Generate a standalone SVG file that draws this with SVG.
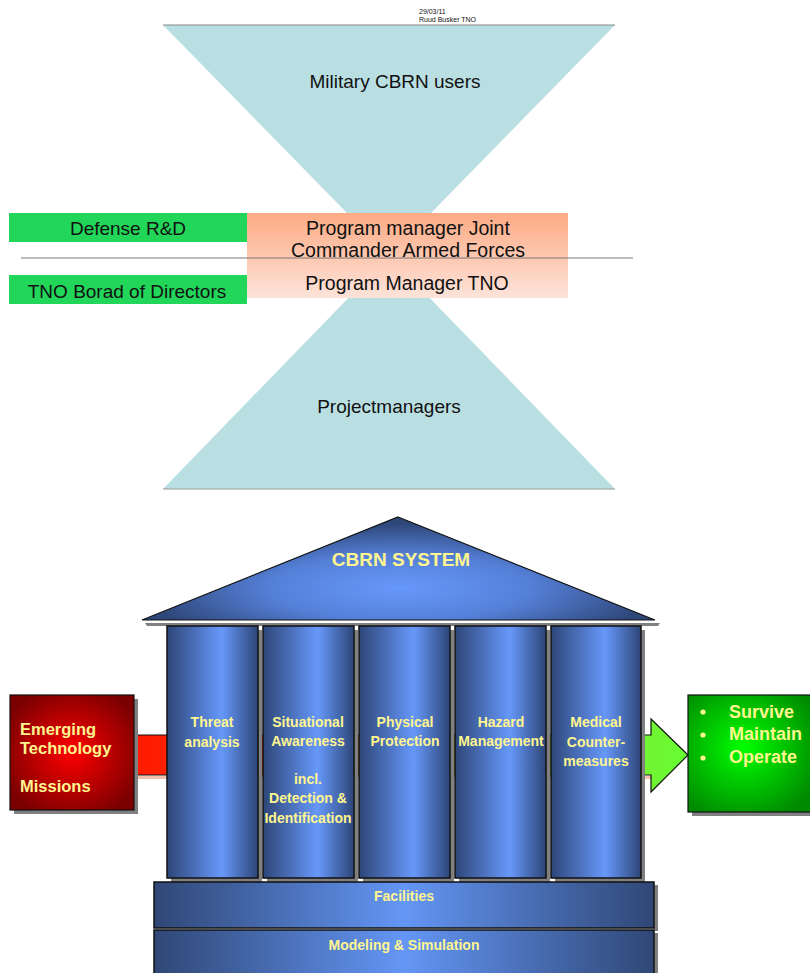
<svg xmlns="http://www.w3.org/2000/svg" width="810" height="973" viewBox="0 0 810 973">
<defs>
<style>
.t{font-family:"Liberation Sans",Arial,sans-serif;fill:#111}
.y{font-family:"Liberation Sans",Arial,sans-serif;font-weight:bold;fill:#fff68f}
.c{text-anchor:middle}
.col{fill:url(#colg);stroke:#111;stroke-width:1.5}
.sh{fill:#808080}
</style>
<linearGradient id="orange" x1="0" y1="0" x2="0" y2="1">
<stop offset="0" stop-color="#fdab84"/><stop offset="1" stop-color="#fde3da"/>
</linearGradient>
<linearGradient id="colg" x1="0" y1="0" x2="1" y2="0">
<stop offset="0" stop-color="#2e4678"/><stop offset="0.6" stop-color="#6698fa"/><stop offset="1" stop-color="#2e4678"/>
</linearGradient>
<linearGradient id="slab" x1="0" y1="0" x2="1" y2="0">
<stop offset="0" stop-color="#2f4775"/><stop offset="0.5" stop-color="#6496f5"/><stop offset="1" stop-color="#2f4775"/>
</linearGradient>
<radialGradient id="roofg" gradientUnits="userSpaceOnUse" cx="400" cy="588" r="260" gradientTransform="translate(400 588) scale(1 0.25) translate(-400 -588)">
<stop offset="0" stop-color="#6698fa"/><stop offset="0.5" stop-color="#5580d8"/><stop offset="1" stop-color="#2e4678"/>
</radialGradient>
<radialGradient id="redg" cx="0.5" cy="0.5" r="0.6">
<stop offset="0" stop-color="#ff0000"/><stop offset="1" stop-color="#7a0000"/>
</radialGradient>
<radialGradient id="greeng" cx="0.45" cy="0.45" r="0.65">
<stop offset="0" stop-color="#00ff00"/><stop offset="1" stop-color="#008a00"/>
</radialGradient>
<linearGradient id="band" gradientUnits="userSpaceOnUse" x1="134" y1="0" x2="688" y2="0">
<stop offset="0" stop-color="#ff1a00"/><stop offset="0.23" stop-color="#ff3300"/><stop offset="0.4" stop-color="#d87020"/><stop offset="0.5" stop-color="#cf8a20"/><stop offset="0.65" stop-color="#a8d020"/><stop offset="0.8" stop-color="#88e030"/><stop offset="1" stop-color="#66ff33"/>
</linearGradient>
</defs>
<rect width="810" height="973" fill="#fff"/>

<g id="note">
<text class="t" x="419" y="14" font-size="7" fill="#444">29/03/11</text>
<text class="t" x="419" y="22" font-size="7" fill="#444">Ruud Busker TNO</text>
</g>

<g id="hourglass-top">
<polygon points="163,25 615,25 389,256" fill="#badfe3"/>
<line x1="163" y1="25" x2="615" y2="25" stroke="#888" stroke-width="1.2"/>
<text class="t c" x="395" y="88" font-size="19">Military CBRN users</text>
</g>
<g id="hourglass-bottom">
<polygon points="163,489 615,489 389,256" fill="#badfe3"/>
<line x1="163" y1="489" x2="615" y2="489" stroke="#999" stroke-width="1.2"/>
<text class="t c" x="389" y="413" font-size="19">Projectmanagers</text>
</g>

<g id="defense-rd">
<rect x="9" y="213" width="238" height="29" fill="#22d65a"/>
<text class="t c" x="128" y="235" font-size="19">Defense R&amp;D</text>
</g>
<g id="tno-board">
<rect x="9" y="275" width="238" height="29" fill="#22d65a"/>
<text class="t c" x="127" y="298" font-size="19">TNO Borad of Directors</text>
</g>
<g id="program-managers">
<rect x="247" y="213" width="321" height="85" fill="url(#orange)"/>
<text class="t c" x="408" y="235" font-size="19.5">Program manager Joint</text>
<text class="t c" x="408" y="257" font-size="19.5">Commander Armed Forces</text>
<text class="t c" x="407" y="290" font-size="19.5">Program Manager TNO</text>
</g>
<g id="connectors">
<line x1="21" y1="258" x2="633" y2="258" stroke="#777" stroke-width="1"/>
</g>

<g id="arrow-band">
<rect x="134" y="776" width="517" height="3" fill="#f3c0b0"/>
<polygon points="134,735 651,735 651,719 688,755 651,792 651,775 134,775" fill="url(#band)" stroke="#111" stroke-width="1.2"/>
</g>

<g id="emerging">
<rect x="14" y="699" width="124" height="115" class="sh"/>
<rect x="10" y="695" width="124" height="115" fill="url(#redg)" stroke="#111" stroke-width="1.2"/>
<text class="y" x="20" y="735" font-size="16.5">Emerging</text>
<text class="y" x="20" y="754" font-size="16.5">Technology</text>
<text class="y" x="20" y="792" font-size="16.5">Missions</text>
</g>

<g id="outcomes">
<rect x="692" y="699" width="124" height="117" class="sh"/>
<rect x="688" y="695" width="124" height="117" fill="url(#greeng)" stroke="#111" stroke-width="1.2"/>
<circle cx="703" cy="712" r="2.6" fill="#fff68f"/>
<circle cx="703" cy="735" r="2.6" fill="#fff68f"/>
<circle cx="703" cy="758" r="2.6" fill="#fff68f"/>
<text class="y" x="729" y="718" font-size="18">Survive</text>
<text class="y" x="729" y="740" font-size="18">Maintain</text>
<text class="y" x="729" y="763" font-size="18">Operate</text>
</g>

<g id="roof">
<polygon points="145,623 660,623 658,626 147,626" class="sh"/>
<polygon points="398,517 655,620 142,620" fill="url(#roofg)" stroke="#111" stroke-width="1.2"/>
<text class="y c" x="401" y="566" font-size="19">CBRN SYSTEM</text>
</g>

<g id="col-threat">
<rect x="171" y="630" width="91" height="252" class="sh"/>
<rect x="167" y="626" width="91" height="252" class="col"/>
<text class="y c" x="212" y="727" font-size="14">Threat</text>
<text class="y c" x="212" y="747" font-size="14">analysis</text>
</g>
<g id="col-situational">
<rect x="267" y="630" width="91" height="252" class="sh"/>
<rect x="263" y="626" width="91" height="252" class="col"/>
<text class="y c" x="308" y="727" font-size="14">Situational</text>
<text class="y c" x="308" y="746" font-size="14">Awareness</text>
<text class="y c" x="308" y="784" font-size="14">incl.</text>
<text class="y c" x="308" y="803" font-size="14">Detection &amp;</text>
<text class="y c" x="308" y="823" font-size="14">Identification</text>
</g>
<g id="col-physical">
<rect x="363" y="630" width="91" height="252" class="sh"/>
<rect x="359" y="626" width="91" height="252" class="col"/>
<text class="y c" x="405" y="727" font-size="14">Physical</text>
<text class="y c" x="405" y="746" font-size="14">Protection</text>
</g>
<g id="col-hazard">
<rect x="459" y="630" width="91" height="252" class="sh"/>
<rect x="455" y="626" width="91" height="252" class="col"/>
<text class="y c" x="501" y="727" font-size="14">Hazard</text>
<text class="y c" x="501" y="746" font-size="14">Management</text>
</g>
<g id="col-medical">
<rect x="555" y="630" width="90" height="252" class="sh"/>
<rect x="551" y="626" width="90" height="252" class="col"/>
<text class="y c" x="596" y="727" font-size="14">Medical</text>
<text class="y c" x="596" y="747" font-size="14">Counter-</text>
<text class="y c" x="596" y="766" font-size="14">measures</text>
</g>

<g id="facilities">
<rect x="654" y="885" width="4" height="46" class="sh"/>
<rect x="154" y="882" width="500" height="46" fill="url(#slab)" stroke="#111" stroke-width="1.5"/>
<text class="y c" x="404" y="901" font-size="14">Facilities</text>
</g>
<g id="modeling">
<rect x="654" y="933" width="4" height="42" class="sh"/>
<rect x="154" y="930" width="500" height="46" fill="url(#slab)" stroke="#111" stroke-width="1.5"/>
<text class="y c" x="404" y="950" font-size="14">Modeling &amp; Simulation</text>
</g>
</svg>
